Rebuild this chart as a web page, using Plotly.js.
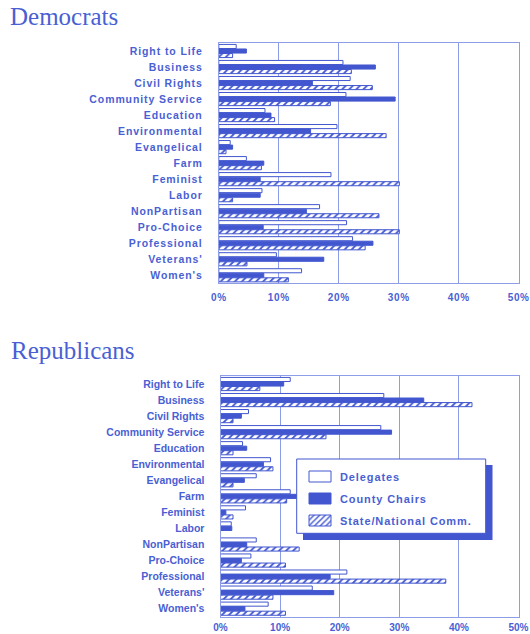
<!DOCTYPE html>
<html>
<head>
<meta charset="utf-8">
<script src="https://cdn.plot.ly/plotly-3.0.1.min.js"></script>
<style>
html,body{margin:0;padding:0;background:#fff;}
#chart{width:530px;height:634px;}
.ytick text{letter-spacing:0.9px;}
.xtick text{letter-spacing:0.6px;}
.legendtext{letter-spacing:0.9px;}
</style>
</head>
<body>
<div id="chart"></div>
<script>
const categories = ['Right to Life','Business','Civil Rights','Community Service','Education','Environmental','Evangelical','Farm','Feminist','Labor','NonPartisan','Pro-Choice','Professional',"Veterans'","Women's"];
const seriesNames = ['Delegates','County Chairs','State/National Comm.'];

const demDelegates = [2.9,20.7,21.9,21.2,7.7,19.7,1.9,4.6,18.7,7.2,16.8,21.3,22.3,9.6,13.8];
const demCounty    = [4.6,26.1,15.6,29.4,8.7,15.3,2.3,7.5,6.9,6.9,14.6,7.4,25.7,17.5,7.5];
const demState     = [2.3,22.1,25.6,18.6,9.3,27.9,1.2,7.1,30.1,2.3,26.7,30.1,24.4,4.7,11.6];

const repDelegates = [11.7,27.4,4.7,26.9,3.7,8.4,6.0,11.7,4.2,1.8,6.0,5.1,21.2,15.4,8.0];
const repCounty    = [10.6,34.1,3.5,28.7,4.4,7.2,4.0,14.0,0.9,1.9,4.4,3.5,18.4,19.0,4.1];
const repState     = [6.6,42.2,2.1,17.7,2.1,8.8,2.1,11.1,2.1,0,13.2,10.9,37.8,8.8,10.9];

const xTicks = [0,10,20,30,40,50];
const xTickText = ['0%','10%','20%','30%','40%','50%'];
const panelTitles = ['Democrats','Republicans'];

const BLUE = '#4257cf';
const TEXT = '#4a5fd3';
const GRID = '#8d9de8';
const W = 530, H = 634;
const px = v => v / W;
const py = v => 1 - v / H;

function traces(vals, xa, ya, show) {
  const styles = [
    {color:'#ffffff', line:{color:BLUE, width:1}},
    {color:BLUE, line:{color:BLUE, width:1}},
    {color:'#ffffff', line:{color:BLUE, width:1},
     pattern:{shape:'/', fgcolor:BLUE, bgcolor:'#ffffff', size:5, solidity:0.35}}
  ];
  return vals.map((v,i)=>({
    type:'bar', orientation:'h', x:v, y:categories, name:seriesNames[i],
    xaxis:xa, yaxis:ya, marker:styles[i], showlegend:show,
    legendgroup:'g'+i, hoverinfo:'x+y'
  }));
}

const data = [
  ...traces([demDelegates, demCounty, demState], 'x', 'y', false),
  ...traces([repDelegates, repCounty, repState], 'x2', 'y2', true)
];

const font = {family:'Liberation Sans, Arial, sans-serif', size:10.5, color:TEXT, weight:'bold'};
const xfont = {family:'Liberation Sans, Arial, sans-serif', size:10, color:TEXT, weight:'bold'};

function xax(domain, anchor, standoff) {
  return {domain:domain, anchor:anchor, range:[0,50], tickmode:'array', tickvals:xTicks, ticktext:xTickText,
    showgrid:true, gridcolor:GRID, gridwidth:1, zeroline:false,
    showline:true, mirror:true, linecolor:GRID, linewidth:1, ticks:'',
    tickfont:xfont, ticklabelstandoff:standoff, fixedrange:true};
}
function yax(domain, anchor) {
  return {domain:domain, anchor:anchor, type:'category', categoryorder:'array',
    categoryarray:categories, autorange:'reversed', showgrid:false, zeroline:false,
    showline:true, mirror:true, linecolor:GRID, linewidth:1, ticks:'',
    tickfont:font, ticklabelstandoff:13, fixedrange:true};
}

const layout = {
  width:W, height:H, margin:{l:0,r:0,t:0,b:0},
  paper_bgcolor:'#ffffff', plot_bgcolor:'#ffffff',
  barmode:'group', bargap:0.15, bargroupgap:0.1,
  xaxis: xax([px(218.8), px(518.7)], 'y', 5),
  yaxis: yax([py(283.3), py(43)], 'x'),
  xaxis2: xax([px(220.5), px(518.5)], 'y2', 1),
  yaxis2: yax([py(616.7), py(376)], 'x2'),
  showlegend:true,
  legend:{x:px(300), y:py(462), xanchor:'left', yanchor:'top', bgcolor:'rgba(0,0,0,0)',
    borderwidth:0, font:{family:'Liberation Sans, Arial, sans-serif', size:11, color:TEXT, weight:'bold'},
    traceorder:'grouped', tracegroupgap:3, itemwidth:30},
  shapes:[
    {type:'rect', xref:'paper', yref:'paper', x0:px(303), x1:px(492.5), y0:py(540), y1:py(465),
     fillcolor:BLUE, line:{width:0}, layer:'above'},
    {type:'rect', xref:'paper', yref:'paper', x0:px(296.7), x1:px(485.7), y0:py(533.3), y1:py(459),
     fillcolor:'#ffffff', line:{color:BLUE, width:1}, layer:'above'}
  ],
  annotations:[
    {text:panelTitles[0], xref:'paper', yref:'paper', x:px(8), y:py(32), xanchor:'left', yanchor:'bottom',
     showarrow:false, font:{family:'Liberation Serif, serif', size:25, color:TEXT}},
    {text:panelTitles[1], xref:'paper', yref:'paper', x:px(9), y:py(366), xanchor:'left', yanchor:'bottom',
     showarrow:false, font:{family:'Liberation Serif, serif', size:25, color:TEXT}}
  ]
};

Plotly.newPlot('chart', data, layout, {displayModeBar:false, staticPlot:true}).then(gd => {
  gd.querySelectorAll('.legend .legendpoints path').forEach(p => {
    p.setAttribute('d', 'M-11,-5.5h22v11h-22z');
  });
});
</script>
</body>
</html>
